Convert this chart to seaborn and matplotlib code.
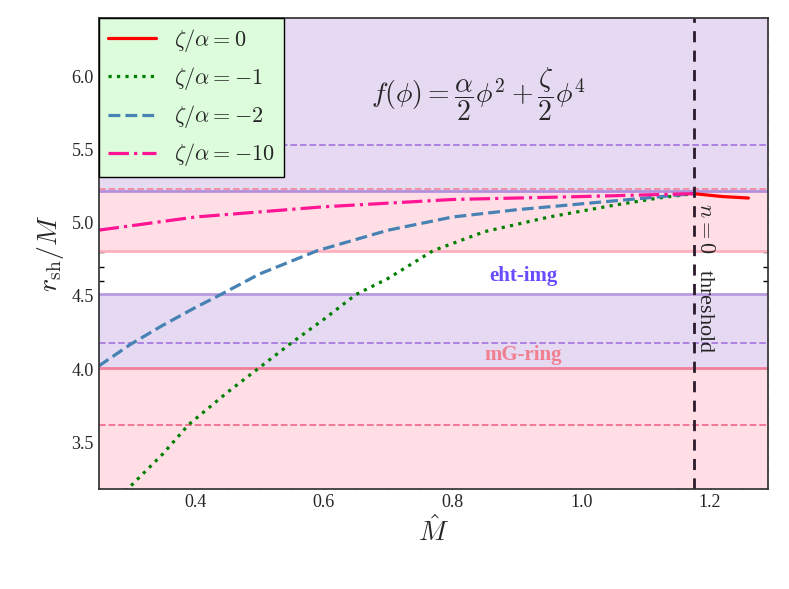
import matplotlib
matplotlib.use("Agg")
import matplotlib.pyplot as plt
import seaborn as sns
from matplotlib.ticker import AutoMinorLocator

sns.set_theme(style="ticks")
plt.rcParams.update({
    "font.family": "Liberation Serif",
    "mathtext.fontset": "cm",
})

# ── data ─────────────────────────────────────────────────────────────────────
m_green = [0.28, 0.30, 0.35, 0.39, 0.45, 0.50, 0.55, 0.60, 0.65, 0.70, 0.77, 0.85, 0.95, 1.05, 1.12, 1.175]
r_green = [3.13, 3.20, 3.42, 3.62, 3.84, 4.01, 4.18, 4.34, 4.51, 4.62, 4.81, 4.94, 5.04, 5.12, 5.17, 5.20]
m_blue = [0.25, 0.30, 0.35, 0.40, 0.44, 0.50, 0.59, 0.70, 0.80, 0.90, 1.00, 1.10, 1.175]
r_blue = [4.02, 4.17, 4.30, 4.42, 4.51, 4.65, 4.81, 4.95, 5.04, 5.09, 5.13, 5.17, 5.20]
m_pink = [0.25, 0.40, 0.60, 0.80, 1.00, 1.175]
r_pink = [4.95, 5.04, 5.11, 5.16, 5.18, 5.20]
m_red = [1.175, 1.22, 1.26]
r_red = [5.20, 5.18, 5.17]

series = [
    (m_red, r_red, r"$\zeta/\alpha=0$", "red", "-"),
    (m_green, r_green, r"$\zeta/\alpha=-1$", "green", ":"),
    (m_blue, r_blue, r"$\zeta/\alpha=-2$", "#4682b4", "--"),
    (m_pink, r_pink, r"$\zeta/\alpha=-10$", "#ff1493", "-."),
]
threshold = 1.175

fig, ax = plt.subplots(figsize=(7.89, 5.89), dpi=100)
xlim = (0.25, 1.29)
ylim = (3.18, 6.40)

# bands
purple, pink = "#e6d9f2", "#ffdfe5"
ax.axhspan(5.22, ylim[1], color=purple, lw=0)
ax.axhspan(4.81, 5.22, color=pink, lw=0)
ax.axhspan(4.01, 4.51, color=purple, lw=0)
ax.axhspan(ylim[0], 4.01, color=pink, lw=0)
for y, c, ls in [(5.53, "#a77de0", "--"), (5.22, "#b48fdc", "-"), (5.235, "#f08ca0", "--"),
                 (4.81, "#ffb0c0", "-"), (4.51, "#b89be0", "-"), (4.18, "#a77de0", "--"),
                 (4.01, "#f0809a", "-"), (3.62, "#f07090", "--")]:
    ax.axhline(y, color=c, ls=ls, lw=1.3 if ls == "--" else 2)

for m, r, lab, c, ls in series:
    sns.lineplot(x=m, y=r, ax=ax, color=c, ls=ls, lw=2.3, label=lab, sort=False)

ax.axvline(threshold, color="#2a1a2a", ls=(0, (4, 3)), lw=2)
ax.text(1.192, 4.62, r"$n=0$   threshold", rotation=-90, ha="center", va="center", fontsize=16)
ax.text(0.91, 4.60, "eht-img", color="#6a4cff", fontsize=15, fontweight="bold", ha="center")
ax.text(0.91, 4.06, "mG-ring", color="#f08090", fontsize=15, fontweight="bold", ha="center")
ax.text(0.84, 5.88, r"$f(\phi)=\dfrac{\alpha}{2}\phi^2+\dfrac{\zeta}{2}\phi^4$",
        fontsize=20, ha="center", va="center")

ax.set_xlim(*xlim)
ax.set_ylim(*ylim)
ax.set_xticks([0.4, 0.6, 0.8, 1.0, 1.2])
ax.set_yticks([3.5, 4.0, 4.5, 5.0, 5.5, 6.0])
ax.xaxis.set_minor_locator(AutoMinorLocator(4))
ax.yaxis.set_minor_locator(AutoMinorLocator(5))
ax.tick_params(which="both", direction="in", top=True, right=True, labelsize=13,
               color="black", width=1)
ax.tick_params(which="major", length=7)
ax.tick_params(which="minor", length=3.5)
for sp in ax.spines.values():
    sp.set_color("#333333")
ax.set_xlabel(r"$\hat{M}$", fontsize=20)
ax.set_ylabel(r"$r_{\rm sh}/M$", fontsize=20)

leg = ax.legend(loc="upper left", fontsize=16, fancybox=False, framealpha=1,
                facecolor="#dcfcdc", edgecolor="black", borderaxespad=0, handlelength=2.2)

fig.subplots_adjust(left=0.125, right=0.973, top=0.969, bottom=0.17)
plt.savefig("out.png", dpi=100)
